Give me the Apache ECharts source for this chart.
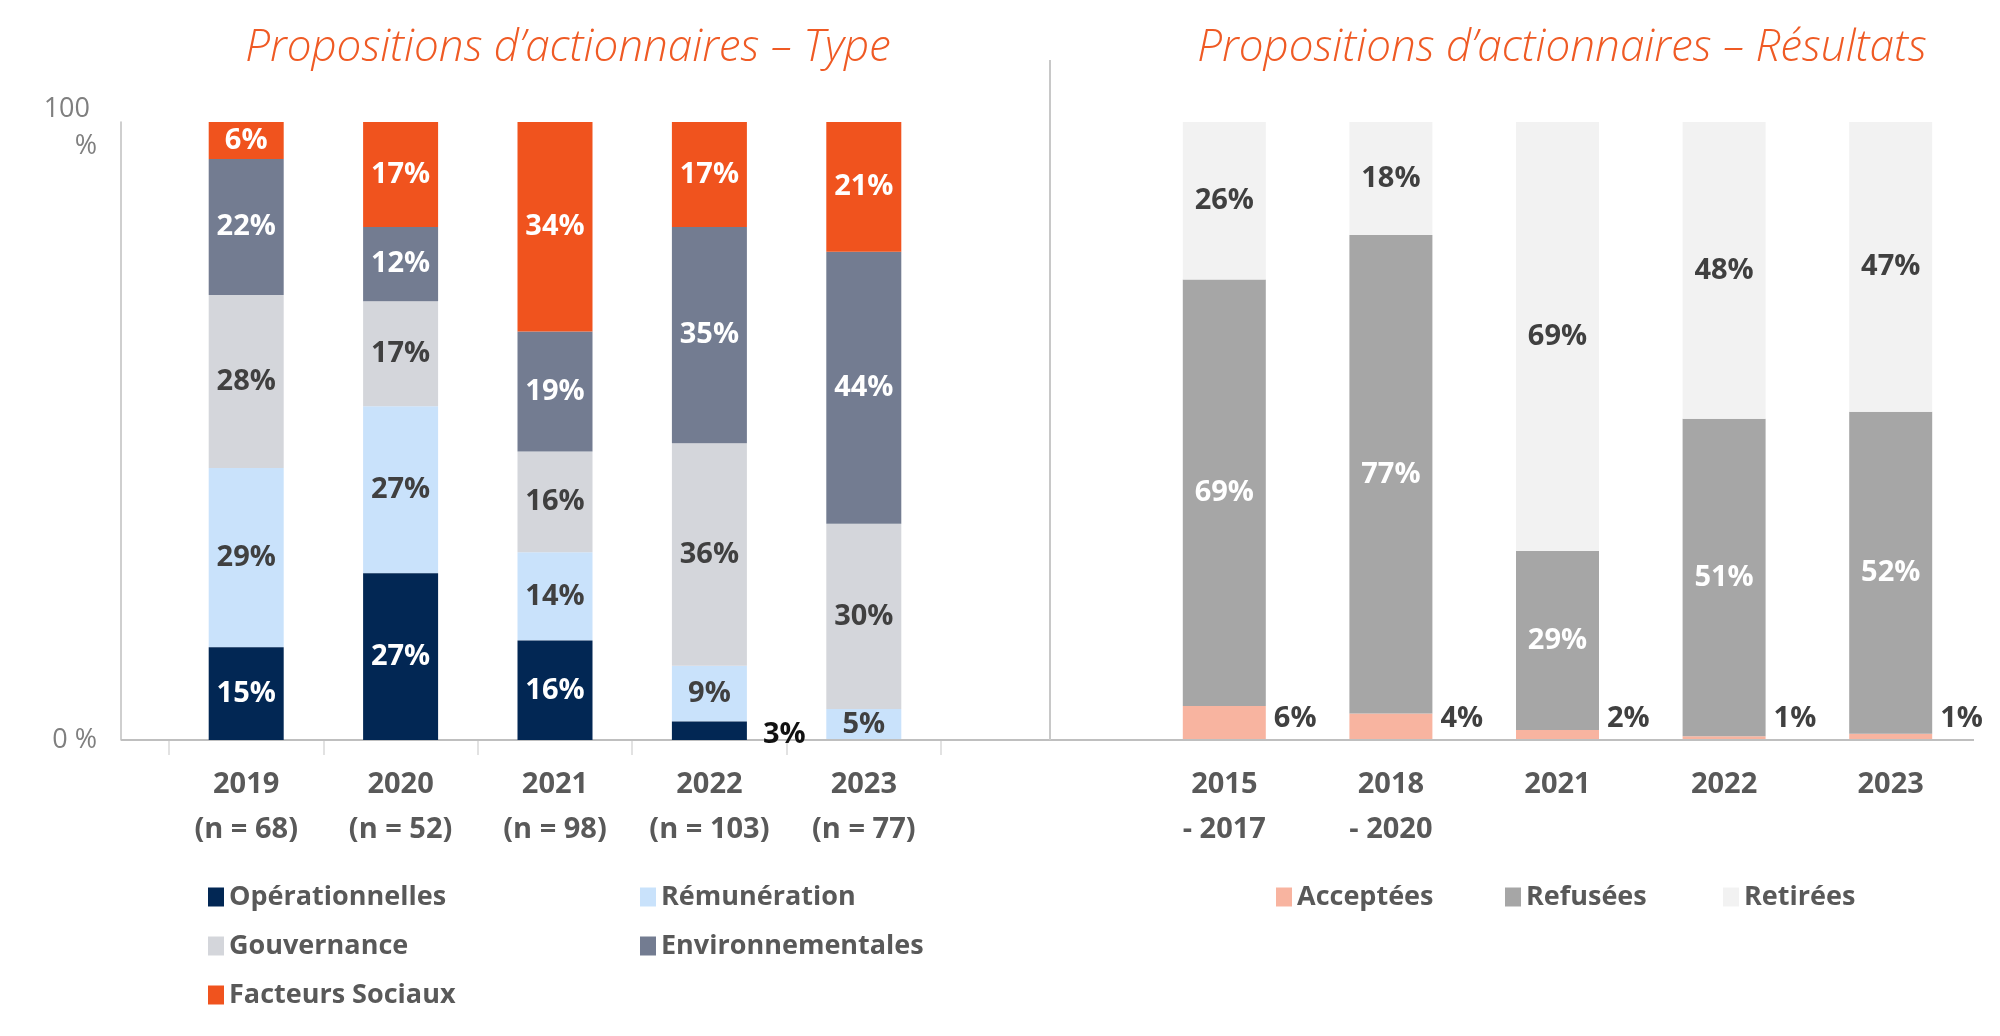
<!DOCTYPE html>
<html>
<head>
<meta charset="utf-8">
<script src="https://cdn.jsdelivr.net/npm/echarts@6/dist/echarts.min.js"></script>
<style>
  html, body { margin: 0; padding: 0; background: #fff; }
  #chart { width: 2000px; height: 1036px; }
</style>
</head>
<body>
<div id="chart"></div>
<script>
	// graphique de gauche : type de propositions
	var typeYears = ['2019\n(n = 68)', '2020\n(n = 52)', '2021\n(n = 98)', '2022\n(n = 103)', '2023\n(n = 77)'];
	var operationnelles = [15, 27, 16.1, 3, 0];
	var remuneration = [29, 27, 14.3, 9, 5];
	var gouvernance = [28, 17, 16.3, 36, 30];
	var environnementales = [22, 12, 19.4, 35, 44];
	var facteursSociaux = [6, 17, 33.9, 17, 21];

	// graphique de droite : resultats
	var resYears = ['2015\n- 2017', '2018\n- 2020', '2021', '2022', '2023'];
	var acceptees = [5.5, 4.3, 1.6, 0.6, 1.0];
	var refusees = [69, 77.4, 29, 51.4, 52.1];
	var retirees = [25.5, 18.3, 69.4, 48, 46.9];

	var yTicks = [0, 100];

	var FONT = '"Open Sans", "Noto Sans", sans-serif';
	var ORANGE = '#EF5A24';
	var TXT = '#595959';

	function pct(p){
		if(p.value == 0) return '';
		return Math.round(p.value) + '%';
	}

	function lbl(color){
		return {show: true, position: 'inside', color: color, fontFamily: FONT,
			fontWeight: 'bold', fontSize: 29, formatter: pct};
	}

	var outsideLbl = {show: true, position: ['100%', '100%'], align: 'left', verticalAlign: 'middle',
		fontFamily: FONT, fontWeight: 'bold', fontSize: 29, formatter: pct};

	//le 3% de 2022 est ecrit a droite de la barre
	var opData = [];
	for(var i = 0; i < operationnelles.length; i++){
		if(i == 3){
			opData.push({value: operationnelles[i],
				label: Object.assign({}, outsideLbl, {color: '#111111', offset: [16, -5]})});
		}else{
			opData.push(operationnelles[i]);
		}
	}

	var typeSeries = [
		{name: 'Opérationnelles', data: opData, color: '#022754', label: lbl('#ffffff'), z: 60},
		{name: 'Rémunération', data: remuneration, color: '#C9E2FB', label: lbl('#404040')},
		{name: 'Gouvernance', data: gouvernance, color: '#D4D6DB', label: lbl('#404040')},
		{name: 'Environnementales', data: environnementales, color: '#737C91', label: lbl('#ffffff')},
		{name: 'Facteurs Sociaux', data: facteursSociaux, color: '#F0531E', label: lbl('#ffffff')}
	];
	var resSeries = [
		{name: 'Acceptées', data: acceptees, color: '#F8B4A0',
			label: Object.assign({}, outsideLbl, {color: '#404040', offset: [8, -21]})},
		{name: 'Refusées', data: refusees, color: '#A6A6A6', label: lbl('#ffffff')},
		{name: 'Retirées', data: retirees, color: '#F2F2F2', label: lbl('#404040')}
	];

	var series = [];
	typeSeries.forEach(function(s){
		series.push({name: s.name, type: 'bar', stack: 'type', xAxisIndex: 0, yAxisIndex: 0, z: s.z || 2,
			barWidth: 75, data: s.data, itemStyle: {color: s.color}, label: s.label});
	});
	resSeries.forEach(function(s){
		series.push({name: s.name, type: 'bar', stack: 'res', xAxisIndex: 1, yAxisIndex: 1,
			barWidth: 83, data: s.data, itemStyle: {color: s.color}, label: s.label});
	});

	//une legende par element pour garder la mise en page en colonnes
	var legendPos = [
		['Opérationnelles', 208, 883], ['Rémunération', 640, 883],
		['Gouvernance', 208, 932], ['Environnementales', 640, 932],
		['Facteurs Sociaux', 208, 981],
		['Acceptées', 1276, 883], ['Refusées', 1505, 883], ['Retirées', 1723, 883]
	];
	var legends = legendPos.map(function(l){
		return {data: [l[0]], left: l[1], top: l[2], padding: 0, itemWidth: 16, itemHeight: 19,
			selectedMode: false, icon: 'rect',
			textStyle: {fontFamily: FONT, fontWeight: 'bold', fontSize: 27, color: TXT, lineHeight: 28}};
	});

	var xLabel = {fontFamily: FONT, fontWeight: 'bold', fontSize: 29, color: TXT, lineHeight: 45,
		margin: 22, interval: 0};

	var titleStyle = {fontFamily: FONT, fontStyle: 'italic', fontWeight: 300, fontSize: 44, color: ORANGE, lineHeight: 56};

	var chart = echarts.init(document.getElementById('chart'));
	var option = {
		animation: false,
		backgroundColor: '#ffffff',
		title: [
			{text: 'Propositions d’actionnaires – Type', left: 563, top: 15, textAlign: 'center', textStyle: titleStyle},
			{text: 'Propositions d’actionnaires – Résultats', left: 1557, top: 15, textAlign: 'center', textStyle: titleStyle}
		],
		legend: legends,
		grid: [
			{left: 169, right: 1059, top: 122, bottom: 296},
			{left: 1141, right: 26, top: 122, bottom: 296}
		],
		xAxis: [
			{type: 'category', gridIndex: 0, data: typeYears,
				axisLine: {show: false},
				axisTick: {show: true, length: 15, lineStyle: {color: '#D9D9D9', width: 1.5}},
				axisLabel: xLabel},
			{type: 'category', gridIndex: 1, data: resYears,
				axisLine: {show: false}, axisTick: {show: false},
				axisLabel: xLabel}
		],
		yAxis: [
			{type: 'value', gridIndex: 0, min: yTicks[0], max: yTicks[1], interval: 100, offset: 48,
				splitLine: {show: false}, axisTick: {show: false},
				axisLine: {show: true, lineStyle: {color: '#BFBFBF', width: 1.5}},
				axisLabel: {margin: 24, fontFamily: FONT, fontWeight: 'normal', fontSize: 27, color: '#7F7F7F', lineHeight: 37,
					rich: {s: {fontSize: 1, lineHeight: 12}},
					//ligne vide en tete pour descendre le "100 %" comme sur l'original
					formatter: function(v){ return v == 100 ? '{s| }\n100 \n%' : v + ' %'; }}},
			{type: 'value', gridIndex: 1, min: yTicks[0], max: yTicks[1], show: false}
		],
		graphic: [
			{type: 'line', z: 50, shape: {x1: 121, y1: 740, x2: 1974, y2: 740},
				style: {stroke: '#BFBFBF', lineWidth: 2}},
			{type: 'line', z: 50, shape: {x1: 1050, y1: 60, x2: 1050, y2: 740},
				style: {stroke: '#C8C8C8', lineWidth: 2}}
		],
		series: series
	};
	chart.setOption(option);
	window.onresize = chart.resize;
</script>
</body>
</html>
